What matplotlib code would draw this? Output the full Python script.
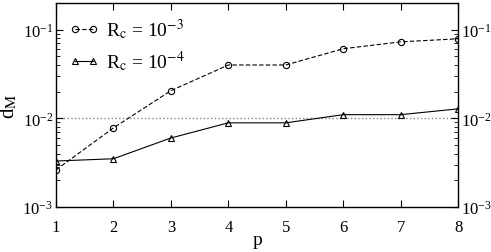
import matplotlib
matplotlib.use("Agg")
import matplotlib.pyplot as plt
from matplotlib.ticker import LogLocator, NullFormatter

plt.rcParams['font.family'] = ['Liberation Serif', 'DejaVu Serif']
plt.rcParams['mathtext.fontset'] = 'stix'
plt.rcParams['axes.unicode_minus'] = False

p = [1, 2, 3, 4, 5, 6, 7, 8]
d_rc3 = [0.00262, 0.0078, 0.0205, 0.040, 0.040, 0.061, 0.073, 0.079]
d_rc4 = [0.0033, 0.0035, 0.0060, 0.0089, 0.0089, 0.011, 0.011, 0.0128]
ref_level = 0.01

fig = plt.figure(figsize=(4.91, 2.53), dpi=100)
ax = fig.add_axes([0.114, 0.178, 0.819, 0.806])

ax.axhline(ref_level, color='#888888', linestyle=':', linewidth=1.0, zorder=1)
ax.plot(p, d_rc3, linestyle='--', color='black', linewidth=0.8, marker='o',
        markersize=4.5, markerfacecolor='none', markeredgewidth=0.8,
        label=r'R$_{\rm c}$ = 10$^{-3}$', dashes=(4, 2))
ax.plot(p, d_rc4, linestyle='-', color='black', linewidth=0.8, marker='^',
        markersize=4.5, markerfacecolor='none', markeredgewidth=0.8,
        label=r'R$_{\rm c}$ = 10$^{-4}$')

ax.set_yscale('log')
ax.set_xlim(1, 8)
ax.set_ylim(1e-3, 0.2)
ax.set_xticks(p)
ax.yaxis.set_major_locator(LogLocator(base=10, numticks=10))
ax.yaxis.set_minor_locator(LogLocator(base=10, subs=range(2, 10), numticks=20))
ax.yaxis.set_minor_formatter(NullFormatter())

ax.tick_params(axis='both', which='both', direction='in', top=True, right=True,
               labelright=True, labelsize=12, colors='black')
ax.tick_params(axis='y', which='major', length=5, pad=2)
ax.tick_params(axis='y', which='minor', length=3)
ax.tick_params(axis='x', which='major', length=5, pad=9)
ax.tick_params(axis='x', which='minor', top=False, bottom=False)
for s in ax.spines.values():
    s.set_linewidth(1.0)

ax.set_xlabel('p', fontsize=14, labelpad=-3)
ax.set_ylabel(r'd$_{\rm M}$', fontsize=15, labelpad=2)

ax.legend(loc='upper left', frameon=False, fontsize=14, numpoints=2,
          handlelength=1.5, handletextpad=0.35, labelspacing=0.35,
          borderaxespad=0.2, borderpad=0.5)

fig.savefig('out.png', dpi=100)
